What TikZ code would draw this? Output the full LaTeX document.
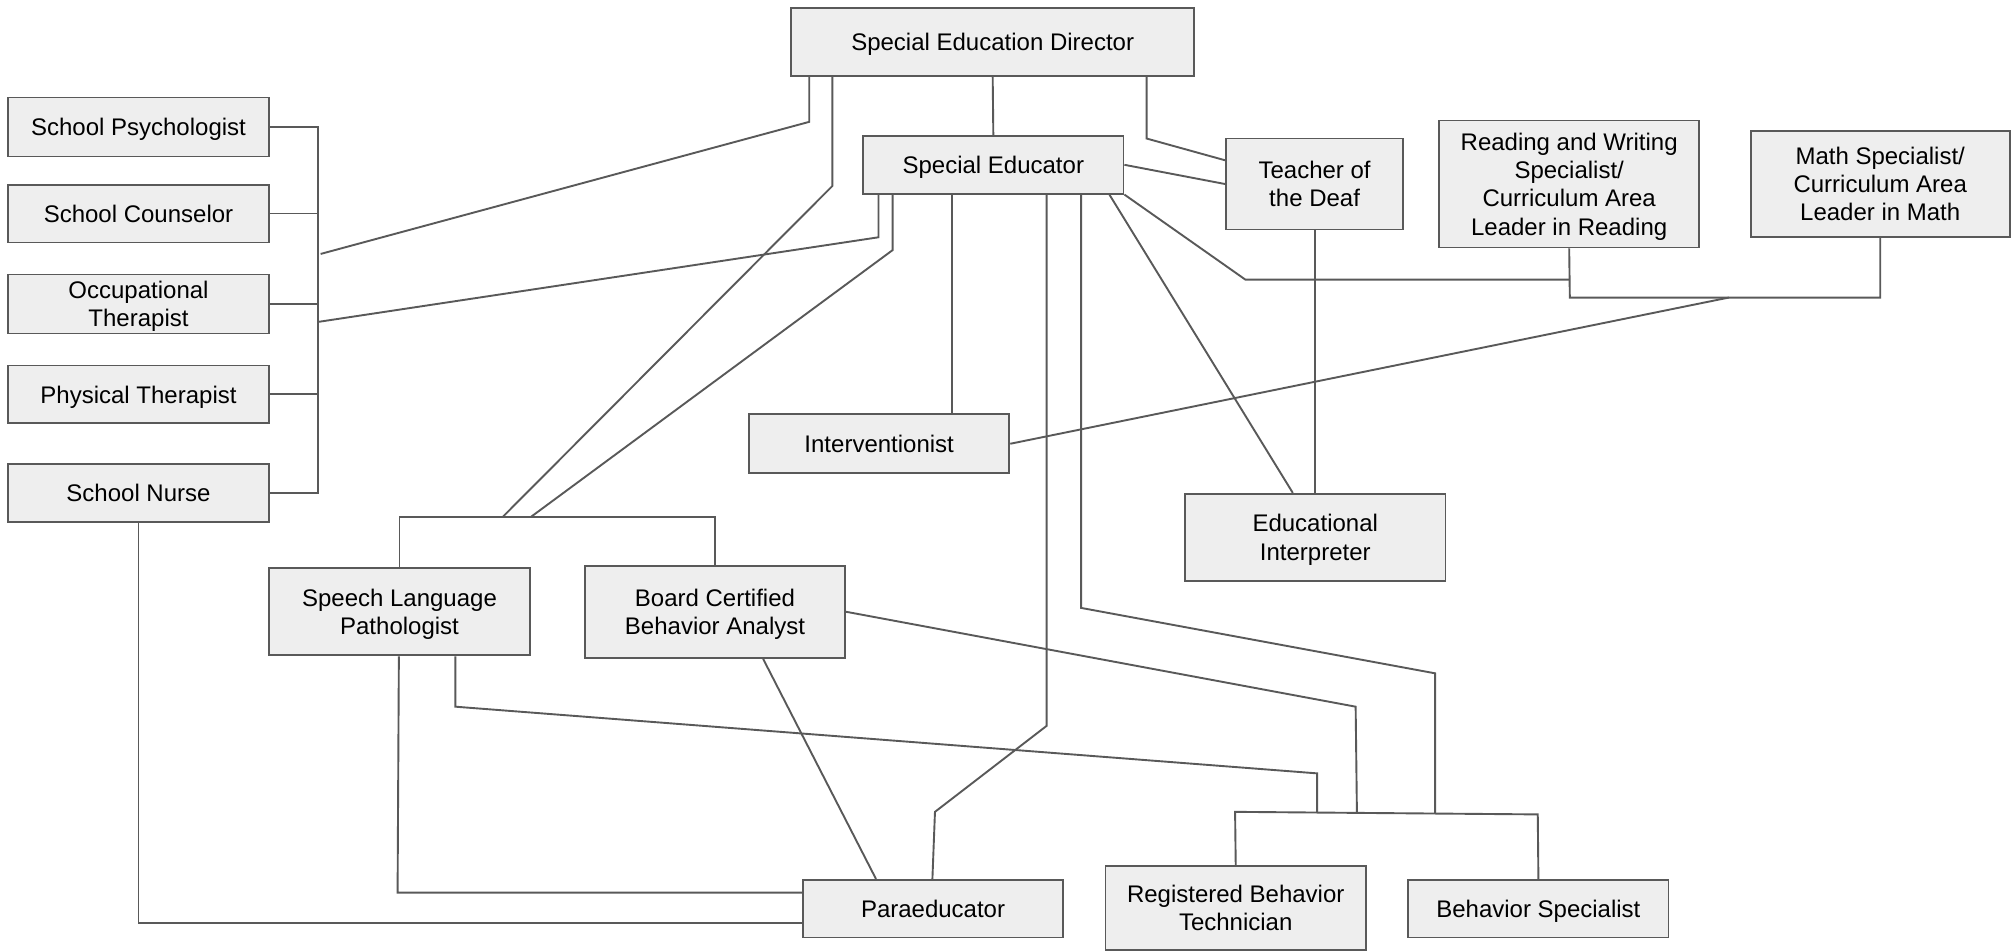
\documentclass[tikz,border=0pt]{standalone}
\usepackage{fontspec}
\setmainfont{Liberation Sans}
\definecolor{boxfill}{HTML}{EEEEEE}
\definecolor{linecol}{HTML}{595959}
\begin{document}
\begin{tikzpicture}[x=0.64125pt,y=-0.64125pt,
  box/.style={draw=linecol,fill=boxfill,line width=0.9pt,align=center,inner sep=0pt,
    text depth=0pt,font=\fontsize{12}{14.1}\selectfont},
  conn/.style={draw=linecol,line width=0.95pt,line join=miter}]
\useasboundingbox (0,0) rectangle (1568,742);
% nodes
\node[box,minimum width=314*0.64125pt,minimum height=53*0.64125pt] (sed) at (774,32.5) {Special Education Director};
\node[box,minimum width=203*0.64125pt,minimum height=45*0.64125pt] (se) at (774.5,128.5) {Special Educator};
\node[box,minimum width=138*0.64125pt,minimum height=71*0.64125pt] (tod) at (1025,143.5) {Teacher of\\the Deaf};
\node[box,minimum width=203*0.64125pt,minimum height=99*0.64125pt] (rw) at (1223.5,143.5) {Reading and Writing\\Specialist/\\Curriculum Area\\Leader in Reading};
\node[box,minimum width=202*0.64125pt,minimum height=83*0.64125pt] (math) at (1466,143.5) {Math Specialist/\\Curriculum Area\\Leader in Math};
\node[box,minimum width=204*0.64125pt,minimum height=46*0.64125pt] (psy) at (108,99) {School Psychologist};
\node[box,minimum width=204*0.64125pt,minimum height=45*0.64125pt] (cou) at (108,166.5) {School Counselor};
\node[box,minimum width=204*0.64125pt,minimum height=46*0.64125pt] (ot) at (108,237) {Occupational\\Therapist};
\node[box,minimum width=204*0.64125pt,minimum height=45*0.64125pt] (pt) at (108,307.5) {Physical Therapist};
\node[box,minimum width=204*0.64125pt,minimum height=45*0.64125pt] (nurse) at (108,384.5) {School Nurse};
\node[box,minimum width=203*0.64125pt,minimum height=46*0.64125pt] (int) at (685.5,346) {Interventionist};
\node[box,minimum width=203*0.64125pt,minimum height=68*0.64125pt] (ei) at (1025.5,419) {Educational\\Interpreter};
\node[box,minimum width=203*0.64125pt,minimum height=68*0.64125pt] (slp) at (311.5,477) {Speech Language\\Pathologist};
\node[box,minimum width=203*0.64125pt,minimum height=72*0.64125pt] (bcba) at (557.5,477) {Board Certified\\Behavior Analyst};
\node[box,minimum width=203*0.64125pt,minimum height=45*0.64125pt] (para) at (727.5,708.5) {Paraeducator};
\node[box,minimum width=203*0.64125pt,minimum height=66*0.64125pt] (rbt) at (963.5,708) {Registered Behavior\\Technician};
\node[box,minimum width=203*0.64125pt,minimum height=45*0.64125pt] (bs) at (1199.5,708.5) {Behavior Specialist};
% bus points
\coordinate (lb1) at (250,198);
\coordinate (lb2) at (248,251);
\coordinate (gb1) at (392,403);
\coordinate (gb2) at (414,403);
\coordinate (rb) at (1348,232);
% left group bus
\draw[conn] (psy.east) -- (248,0 |- psy.east) -- (248,0 |- nurse.east) -- (nurse.east);
\draw[conn] (cou.east) -- (248,0 |- cou.east);
\draw[conn] (ot.east) -- (248,0 |- ot.east);
\draw[conn] (pt.east) -- (248,0 |- pt.east);
% director legs
\draw[conn] (631,0 |- sed.south) -- (631,95) -- (lb1);
\draw[conn] (649,0 |- sed.south) -- (649,145) -- (gb1);
\draw[conn] (sed.south) -- (se.north);
\draw[conn] (894,0 |- sed.south) -- (894,108) -- (tod.west |- 0,125);
% special educator
\draw[conn] (se.east) -- (tod.west);
\draw[conn] (685,0 |- se.south) -- (685,185) -- (lb2);
\draw[conn] (696,0 |- se.south) -- (696,195) -- (gb2);
\draw[conn] (742,0 |- se.south) -- (742,0 |- int.north);
\draw[conn] (816,0 |- se.south) -- (816,566) -- (729,633) -- (727,0 |- para.north);
\draw[conn] (843,0 |- se.south) -- (843,474) -- (1119,525) -- (1119,634);
\draw[conn] (865,0 |- se.south) -- (1008,0 |- ei.north);
\draw[conn] (se.south east) -- (971,218) -- (1224,218);
% reading / math
\draw[conn] (rw.south) -- (1224,232) -- (1466,232) -- (math.south);
\draw[conn] (rb) -- (int.east);
\draw[conn] (tod.south) -- (tod.south |- ei.north);
% SLP / BCBA group
\draw[conn] (slp.north) -- (slp.north |- gb1) -- (bcba.north |- gb1) -- (bcba.north);
\draw[conn] (311,0 |- slp.south) -- (310,696) -- (para.west |- 0,696);
\draw[conn] (355,0 |- slp.south) -- (355,551) -- (1027,603) -- (1027,634);
\draw[conn] (bcba.east) -- (1057,551) -- (1058,634);
\draw[conn] (595,0 |- bcba.south) -- (683,0 |- para.north);
\draw[conn] (nurse.south) -- (108,720) -- (para.west |- 0,720);
% RBT / BS bus
\draw[conn] (rbt.north) -- (963,633) -- (1199,635) -- (bs.north);
\end{tikzpicture}
\end{document}
